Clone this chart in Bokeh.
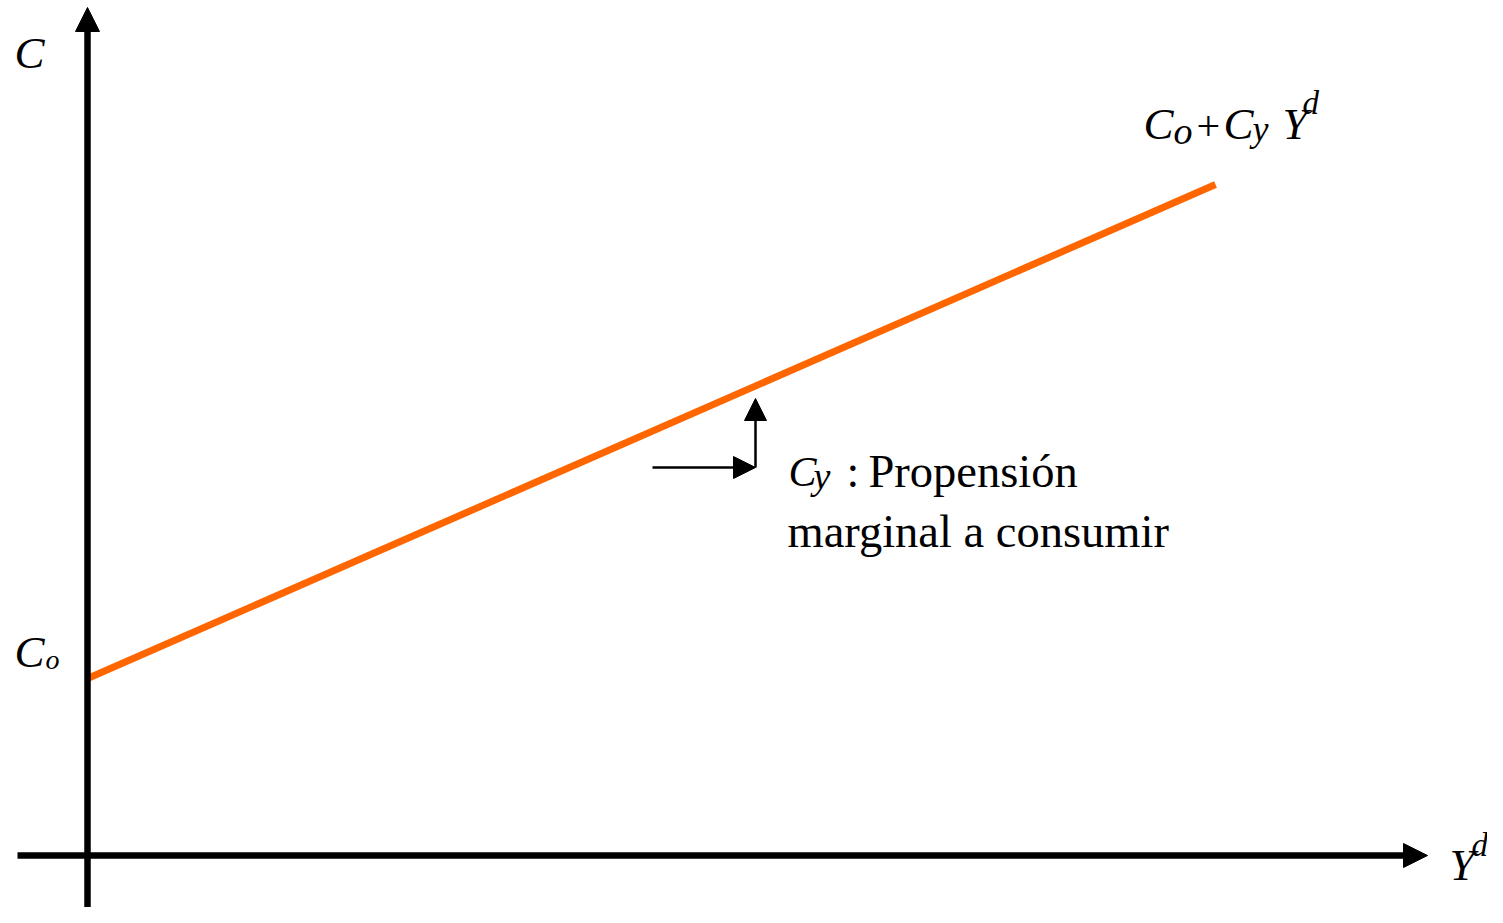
from bokeh.plotting import figure
from bokeh.models import Range1d, Arrow, NormalHead
from bokeh.core.properties import value
from bokeh.embed import file_html
from bokeh.resources import INLINE

# ---- data (diagram units; origin at the axes' crossing) ----
yd_values = [0.0, 112.8]          # disposable income Y^d
c_values = [17.7, 67.1]           # consumption C = Co + Cy*Yd
axis_x = [-7.0, 134.0]            # horizontal axis extent
axis_y = [-6.8, 84.8]             # vertical axis extent
mpc_h = [56.5, 66.8]              # horizontal leg of the slope marker
mpc_v = [38.8, 45.7]              # vertical leg of the slope marker

SERIF = value("Liberation Serif")

p = figure(width=1487, height=907, output_backend="svg", toolbar_location=None,
           x_range=Range1d(-8.7, 140.0), y_range=Range1d(-5.2, 85.5),
           min_border=0, outline_line_color=None)
p.axis.visible = False
p.grid.visible = False
p.background_fill_color = "white"
p.border_fill_color = "white"

# consumption function
p.line(yd_values, c_values, line_color="#FF6600", line_width=7)

def head(size):
    return NormalHead(size=size, fill_color="black", line_color="black", line_width=1)

# axes with arrow heads
p.add_layout(Arrow(end=head(24), x_start=0, y_start=axis_y[0], x_end=0, y_end=axis_y[1],
                   line_color="black", line_width=6.5))
p.add_layout(Arrow(end=head(24), x_start=axis_x[0], y_start=0, x_end=axis_x[1], y_end=0,
                   line_color="black", line_width=6.5))

# slope marker arrows
p.add_layout(Arrow(end=head(22), x_start=mpc_h[0], y_start=mpc_v[0], x_end=mpc_h[1], y_end=mpc_v[0],
                   line_color="black", line_width=2.5))
p.add_layout(Arrow(end=head(22), x_start=mpc_h[1], y_start=mpc_v[0], x_end=mpc_h[1], y_end=mpc_v[1],
                   line_color="black", line_width=2.5))

DY = 1.6  # baseline correction for the renderer

def t(x, y, s, size, italic=True):
    p.text(x=[x], y=[y + DY], text=[s], text_font=SERIF, text_font_size=f"{size}px",
           text_font_style="italic" if italic else "normal",
           text_color="black", text_align="left", text_baseline="alphabetic")

# "C" on vertical axis
t(-7.3, 78.7, "C", 45)
# "Co" intercept
t(-7.3, 18.8, "C", 45)
t(-4.2, 18.0, "o", 28)
# "Co + Cy Yd"
t(105.6, 71.6, "C", 45)
t(108.6, 70.9, "o", 38)
t(110.9, 71.4, "+", 42, italic=False)
t(113.6, 71.6, "C", 45)
t(116.5, 71.1, "y", 36)
t(119.5, 71.6, "Y", 45)
t(121.5, 73.7, "d", 33)
# "Yd" on horizontal axis
t(136.2, -2.5, "Y", 45)
t(138.4, -0.5, "d", 33)
# slope note
t(70.1, 36.8, "C", 42)
t(72.6, 36.4, "y", 38)
t(75.9, 36.8, ":", 46, italic=False)
t(78.1, 36.8, "Propensión", 46.5, italic=False)
t(70.0, 30.8, "marginal a consumir", 46.5, italic=False)

open("out.html", "w").write(file_html(p, INLINE))
